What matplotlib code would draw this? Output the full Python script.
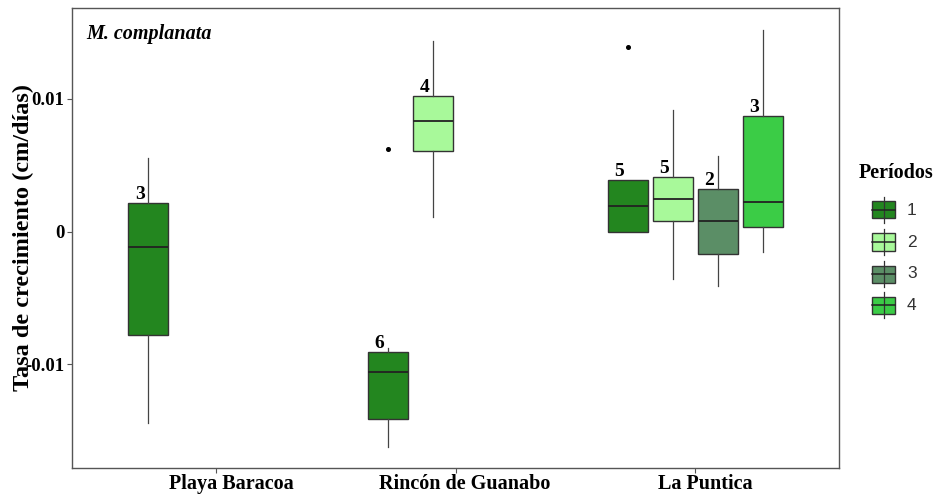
import matplotlib
matplotlib.use("Agg")
import matplotlib.pyplot as plt
from matplotlib.patches import Rectangle
from matplotlib.lines import Line2D
from matplotlib.transforms import ScaledTranslation

plt.rcParams['font.family'] = ['Liberation Serif', 'DejaVu Serif']

# Sites and periods
sites = ["Playa Baracoa", "Rincón de Guanabo", "La Puntica"]
periods = ["1", "2", "3", "4"]
period_colors = ["#23861F", "#A8F99A", "#5B8E66", "#3BCC46"]

# Box statistics per (site, period): whisker low, Q1, median, Q3, whisker high
site_idx   = [0, 1, 1, 2, 2, 2, 2]
period_idx = [0, 0, 1, 0, 1, 2, 3]
whis_lo = [-0.0144, -0.0162, 0.0011, -0.00003, -0.00354, -0.00412, -0.00153]
q1      = [-0.00783, -0.0141, 0.00607, -0.00003, 0.0008, -0.00168, 0.00035]
median  = [-0.00116, -0.0106, 0.00832, 0.00196, 0.00248, 0.0008, 0.00226]
q3      = [0.00218, -0.00906, 0.0102, 0.00391, 0.00409, 0.00324, 0.00873]
whis_hi = [0.00552, -0.0088, 0.0144, 0.00391, 0.00915, 0.00569, 0.0152]
n_obs   = [3, 6, 4, 5, 5, 2, 3]
# Outliers: (box index, value)
outlier_box = [1, 3]
outlier_val = [0.0062, 0.01394]

fig = plt.figure(figsize=(9.34, 4.94), dpi=100)
ax = fig.add_axes([72 / 934, 1 - 468 / 494, (839 - 72) / 934, (468 - 8) / 494])

dodge = 0.75 / len(periods)
box_w = 0.167


def box_x(i):
    return (site_idx[i] + 1) + (period_idx[i] - (len(periods) - 1) / 2) * dodge


stats = []
for i in range(len(site_idx)):
    stats.append(dict(whislo=whis_lo[i], q1=q1[i], med=median[i],
                      q3=q3[i], whishi=whis_hi[i], fliers=[]))

positions = [box_x(i) for i in range(len(site_idx))]
bp = ax.bxp(stats, positions=positions, widths=box_w, patch_artist=True,
            showfliers=False, showcaps=False,
            boxprops=dict(edgecolor="#333333", linewidth=1.0),
            medianprops=dict(color="#222222", linewidth=1.3),
            whiskerprops=dict(color="#444444", linewidth=0.9),
            zorder=2)
for i, patch in enumerate(bp['boxes']):
    patch.set_facecolor(period_colors[period_idx[i]])

for b, v in zip(outlier_box, outlier_val):
    ax.plot(box_x(b), v, 'o', color="black", markersize=2.6, zorder=3)

for i in range(len(site_idx)):
    ax.text(box_x(i) - 0.035, q3[i], str(n_obs[i]), ha="center", va="bottom",
            fontsize=14, fontweight="bold", color="black")

ax.set_xlim(0.4, 3.6)
ax.set_ylim(-0.01782, 0.01686)
ax.set_xticks([1, 2, 3])
ax.set_xticklabels(sites, fontsize=14.5, fontweight="bold")
ax.set_yticks([-0.01, 0, 0.01])
ax.set_yticklabels(["-0.01", "0", "0.01"], fontsize=13.5, fontweight="bold")
ax.tick_params(axis="both", length=3.5, width=0.8, color="#555555", pad=2)
ax.tick_params(axis="x", pad=0.5)
# site labels sit a little right of their ticks
for lab, dx in zip(ax.get_xticklabels(), [16, 9, 10]):
    lab.set_transform(lab.get_transform() +
                      ScaledTranslation(dx / 100, 0, fig.dpi_scale_trans))
for s in ax.spines.values():
    s.set_color("#555555")
    s.set_linewidth(1.0)

ax.set_ylabel("Tasa de crecimiento (cm/días)", fontsize=17.5, fontweight="bold")
ax.yaxis.set_label_coords(-0.05, 0.5)

ax.text(0.019, 0.965, "M. complanata", transform=ax.transAxes, fontsize=14.5,
        fontweight="bold", fontstyle="italic", va="top", ha="left")

# Legend with boxplot glyphs
fig.text(896 / 934, 1 - 173 / 494, "Períodos", fontsize=14.5, fontweight="bold",
         ha="center", va="center")
key_y = [210, 242, 274, 305]
kx0, kx1 = 872, 895
for c, lab, yc in zip(period_colors, periods, key_y):
    xc = (kx0 + kx1) / 2
    fig.add_artist(Line2D([xc / 934, xc / 934],
                          [1 - (yc - 13) / 494, 1 - (yc + 13) / 494],
                          color="#333333", linewidth=0.9))
    fig.add_artist(Rectangle((kx0 / 934, 1 - (yc + 8.5) / 494),
                             (kx1 - kx0) / 934, 17 / 494,
                             facecolor=c, edgecolor="#333333", linewidth=1.0,
                             transform=fig.transFigure))
    fig.add_artist(Line2D([kx0 / 934, kx1 / 934], [1 - yc / 494, 1 - yc / 494],
                          color="#222222", linewidth=1.1))
    fig.text(907 / 934, 1 - yc / 494, lab, fontsize=12.5, family="Liberation Sans",
             color="#333333", ha="left", va="center")

fig.savefig("out.png", dpi=100, facecolor="white")
